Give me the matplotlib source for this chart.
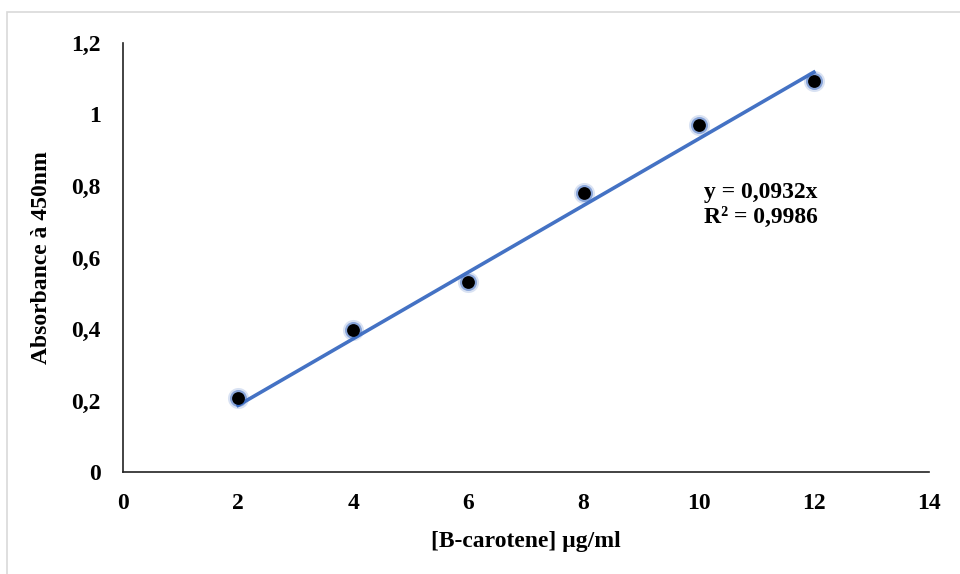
import matplotlib
matplotlib.use("Agg")
import matplotlib.pyplot as plt
from matplotlib.patches import Rectangle
import numpy as np

conc = [2, 4, 6, 8, 10, 12]
absorb = [0.207, 0.397, 0.531, 0.780, 0.971, 1.094]
slope = 0.0932
xticks = [0, 2, 4, 6, 8, 10, 12, 14]
yticks = [0, 0.2, 0.4, 0.6, 0.8, 1.0, 1.2]
ytick_labels = ["0", "0,2", "0,4", "0,6", "0,8", "1", "1,2"]

plt.rcParams['font.family'] = ['Liberation Serif', 'DejaVu Serif']
plt.rcParams['font.weight'] = 'bold'

W, H = 960, 574
fig = plt.figure(figsize=(W/100, H/100), dpi=100)
# outer border
fig.patches.append(Rectangle((7/W, -12/H), 1.0, 1.0, transform=fig.transFigure,
                             fill=False, edgecolor='#d9d9d9', linewidth=1.2))
ax = fig.add_axes([123/W, 1 - 472/H, (929-123)/W, (472-43)/H])

xs = np.array([conc[0], conc[-1]])
ax.plot(xs, slope*xs, color='#4472c4', linewidth=2.6, zorder=2)
ax.scatter(conc, absorb, s=230, color='#4472c4', alpha=0.2, zorder=3, linewidths=0)
ax.scatter(conc, absorb, s=150, color='#3a6ac0', alpha=0.5, zorder=3, linewidths=0)
ax.scatter(conc, absorb, s=85, color='black', zorder=4, linewidths=0)

ax.set_xlim(0, 14)
ax.set_ylim(0, 1.2)
ax.set_xticks(xticks)
ax.set_xticklabels([str(v) for v in xticks])
ax.set_yticks(yticks)
ax.set_yticklabels(ytick_labels)
ax.tick_params(axis='both', length=0, labelsize=17)
ax.tick_params(axis='x', pad=15)
ax.tick_params(axis='y', pad=16)
for s in ['top', 'right']:
    ax.spines[s].set_visible(False)
for s in ['left', 'bottom']:
    ax.spines[s].set_linewidth(1.2)
    ax.spines[s].set_color('#222222')

ax.set_xlabel('[B-carotene] µg/ml', fontsize=17, fontweight='bold', labelpad=12)
ax.set_ylabel('Absorbance à 450nm', fontsize=17, fontweight='bold', labelpad=14)

ax.text(10.1, 0.81, 'y = 0,0932x\nR² = 0,9986', fontsize=17, fontweight='bold',
        ha='left', va='top', linespacing=1.2)

fig.savefig('out.png', dpi=100)
